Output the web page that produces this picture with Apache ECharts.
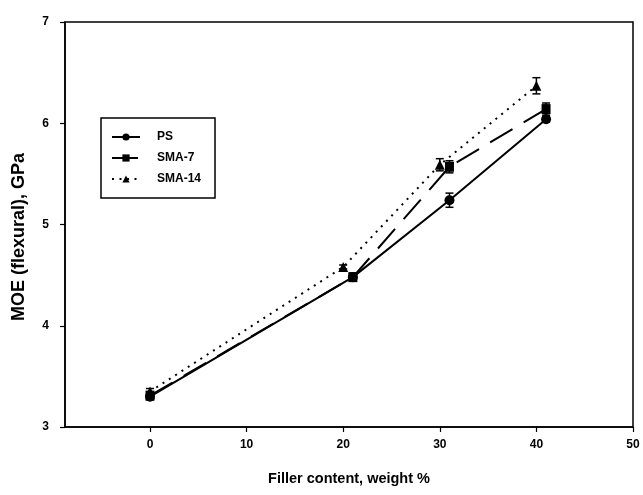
<!DOCTYPE html>
<html><head><meta charset="utf-8">
<script src="https://cdn.jsdelivr.net/npm/echarts@6/dist/echarts.min.js"></script>
<style>html,body{margin:0;padding:0;background:#fff}#c{width:643px;height:495px}</style>
</head><body><div id="c"></div>
<script>
// Data
const psX = [0, 21, 31, 41];
const psY = [3.30, 4.48, 5.24, 6.04];
const psErr = [0.03, 0.03, 0.07, 0.03];

const sma7X = [0, 21, 31, 41];
const sma7Y = [3.31, 4.48, 5.57, 6.14];
const sma7Err = [0.03, 0.04, 0.06, 0.06];

const sma14X = [0, 20, 30, 40];
const sma14Y = [3.35, 4.58, 5.59, 6.37];
const sma14Err = [0.03, 0.02, 0.06, 0.08];

const xTicks = [0, 10, 20, 30, 40, 50];
const yTicks = [3, 4, 5, 6, 7];

const font = "'Liberation Sans', Arial, sans-serif";

function pairs(xs, ys) { return xs.map((x, i) => [x, ys[i]]); }
function errData(xs, ys, es) { return xs.map((x, i) => [x, ys[i] - es[i], ys[i] + es[i]]); }

function errSeries(xs, ys, es) {
  return {
    type: 'custom',
    silent: true,
    z: 3,
    data: errData(xs, ys, es),
    renderItem: function (params, api) {
      const x = api.value(0);
      const lo = api.coord([x, api.value(1)]);
      const hi = api.coord([x, api.value(2)]);
      const w = 4;
      const st = { stroke: '#000', lineWidth: 1.5 };
      return {
        type: 'group',
        children: [
          { type: 'line', shape: { x1: lo[0], y1: lo[1], x2: hi[0], y2: hi[1] }, style: st },
          { type: 'line', shape: { x1: lo[0] - w, y1: lo[1], x2: lo[0] + w, y2: lo[1] }, style: st },
          { type: 'line', shape: { x1: hi[0] - w, y1: hi[1], x2: hi[0] + w, y2: hi[1] }, style: st }
        ]
      };
    }
  };
}

const chart = echarts.init(document.getElementById('c'), null, { renderer: 'canvas' });
chart.setOption({
  animation: false,
  backgroundColor: '#fff',
  grid: { left: 65, right: 10, top: 22, bottom: 68, show: true, borderColor: '#000', borderWidth: 1.5, backgroundColor: 'transparent' },
  legend: {
    left: 101, top: 118,
    orient: 'vertical',
    itemWidth: 28, itemHeight: 9, itemGap: 9,
    padding: [13, 14, 13, 10],
    borderColor: '#000', borderWidth: 1.5,
    textStyle: { fontFamily: font, fontWeight: 'bold', fontSize: 12, color: '#000', padding: [0, 0, 0, 12] },
    data: ['PS', 'SMA-7', 'SMA-14']
  },
  xAxis: {
    type: 'value', min: -8.8, max: 50,
    splitLine: { show: false },
    axisLine: { show: true, onZero: false, lineStyle: { color: '#000', width: 1.5 } },
    axisTick: { show: true, customValues: xTicks, length: 5, lineStyle: { color: '#000', width: 1.2 } },
    axisLabel: { customValues: xTicks, margin: 12, fontFamily: font, fontWeight: 'bold', fontSize: 12, color: '#000' },
    name: 'Filler content, weight %', nameLocation: 'middle', nameGap: 44,
    nameTextStyle: { fontFamily: font, fontWeight: 'bold', fontSize: 14.5, color: '#000' }
  },
  yAxis: {
    type: 'value', min: 3, max: 7, interval: 1,
    splitLine: { show: false },
    axisLine: { show: true, onZero: false, lineStyle: { color: '#000', width: 1.5 } },
    axisTick: { show: true, length: 5, lineStyle: { color: '#000', width: 1.2 } },
    axisLabel: { margin: 16, fontFamily: font, fontWeight: 'bold', fontSize: 12, color: '#000',
      formatter: v => yTicks.indexOf(v) >= 0 ? String(v) : '' },
    name: 'MOE (flexural), GPa', nameLocation: 'middle', nameGap: 37,
    nameTextStyle: { fontFamily: font, fontWeight: 'bold', fontSize: 18, color: '#000', padding: [0, 25, 0, 0] }
  },
  series: [
    {
      name: 'PS', type: 'line', data: pairs(psX, psY),
      symbol: 'circle', symbolSize: 10,
      itemStyle: { color: '#000' },
      lineStyle: { color: '#000', width: 2, type: 'solid' }, z: 4
    },
    {
      name: 'SMA-7', type: 'line', data: pairs(sma7X, sma7Y),
      symbol: 'rect', symbolSize: [9, 10],
      itemStyle: { color: '#000' },
      lineStyle: { color: '#000', width: 2, type: [26, 13] }, z: 4
    },
    {
      name: 'SMA-14', type: 'line', data: pairs(sma14X, sma14Y),
      symbol: 'triangle', symbolSize: 10,
      itemStyle: { color: '#000' },
      lineStyle: { color: '#000', width: 2, type: [2, 5.5] }, z: 4
    },
    errSeries(psX, psY, psErr),
    errSeries(sma7X, sma7Y, sma7Err),
    errSeries(sma14X, sma14Y, sma14Err)
  ]
});
</script>
</body></html>
